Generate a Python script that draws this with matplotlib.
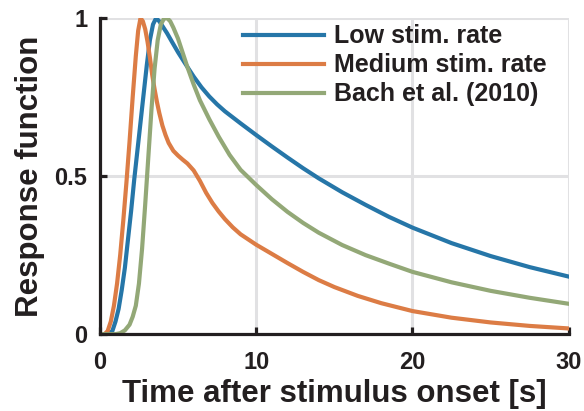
import numpy as np
import matplotlib
matplotlib.use('Agg')
import matplotlib.pyplot as plt

# values
t_low = [0, 0.5, 0.8, 1.0, 1.2, 1.4, 1.6, 1.8, 2.0, 2.2, 2.4, 2.6, 2.8, 3.0, 3.2, 3.4,
         3.6, 3.8, 4.0, 4.3, 4.6, 5.0, 5.5, 6.0, 6.5, 7.0, 7.5, 8.0, 9.0, 10, 11, 12,
         13, 14, 15.5, 17, 18.5, 20, 22.5, 25, 27.5, 30]
y_low = [0, 0, 0.01, 0.04, 0.08, 0.14, 0.21, 0.30, 0.39, 0.49, 0.58, 0.67, 0.76, 0.85, 0.93, 0.98,
         1.0, 0.99, 0.975, 0.952, 0.926, 0.892, 0.853, 0.815, 0.781, 0.752, 0.727, 0.705, 0.667, 0.63, 0.594, 0.559,
         0.525, 0.493, 0.449, 0.409, 0.371, 0.337, 0.288, 0.247, 0.212, 0.182]

t_med = [0, 0.3, 0.5, 0.7, 0.9, 1.1, 1.3, 1.5, 1.7, 1.9, 2.1, 2.3, 2.45, 2.6, 2.75, 2.9,
         3.05, 3.2, 3.35, 3.5, 3.65, 3.8, 4.0, 4.2, 4.4, 4.7, 5.0, 5.3, 5.6, 6.0, 6.4, 6.8,
         7.2, 7.6, 8.0, 8.5, 9.0, 10, 11, 12, 13, 14, 15, 16.5, 18, 20, 22.5, 25, 27.5, 30]
y_med = [0, 0, 0.01, 0.04, 0.09, 0.16, 0.25, 0.36, 0.48, 0.61, 0.75, 0.88, 0.96, 1.0, 0.99, 0.965,
         0.925, 0.875, 0.82, 0.775, 0.735, 0.70, 0.66, 0.63, 0.605, 0.58, 0.565, 0.552, 0.54, 0.518, 0.485, 0.447,
         0.415, 0.388, 0.364, 0.338, 0.316, 0.283, 0.254, 0.225, 0.197, 0.171, 0.149, 0.121, 0.098, 0.073, 0.052, 0.037, 0.026, 0.018]

t_bach = [0, 1.0, 1.3, 1.6, 1.9, 2.1, 2.3, 2.5, 2.7, 2.9, 3.1, 3.3, 3.5, 3.7, 3.9, 4.1,
          4.3, 4.5, 4.7, 5.0, 5.3, 5.6, 6.0, 6.4, 7.0, 7.6, 8.3, 9.0, 10, 11, 12,
          13, 14, 15.5, 17, 18.5, 20, 22.5, 25, 27.5, 30]
y_bach = [0, 0, 0.003, 0.012, 0.03, 0.055, 0.09, 0.16, 0.27, 0.41, 0.56, 0.71, 0.84, 0.93, 0.98, 0.998,
          1.0, 0.99, 0.97, 0.935, 0.89, 0.845, 0.79, 0.74, 0.68, 0.625, 0.567, 0.52, 0.472, 0.427, 0.387,
          0.352, 0.321, 0.282, 0.25, 0.223, 0.197, 0.164, 0.137, 0.115, 0.096]

labels = ['Low stim. rate', 'Medium stim. rate', 'Bach et al. (2010)']
colors = ['#2676a8', '#dc7c45', '#93a877']

plt.rcParams['font.family'] = 'Liberation Sans'
plt.rcParams['font.weight'] = 'bold'

fig = plt.figure(figsize=(5.84, 4.11), dpi=100)
ax = fig.add_axes([0.171, 0.187, 0.803, 0.769])

ax.plot(t_low, y_low, color=colors[0], lw=3, label=labels[0], solid_joinstyle='round')
ax.plot(t_med, y_med, color=colors[1], lw=3, label=labels[1], solid_joinstyle='round')
ax.plot(t_bach, y_bach, color=colors[2], lw=3, label=labels[2], solid_joinstyle='round')

ax.set_xlim(0, 30)
ax.set_ylim(0, 1)
ax.set_xticks([0, 10, 20, 30])
ax.set_yticks([0, 0.5, 1])
ax.set_yticklabels(['0', '0.5', '1'])
ax.grid(True, color='#e1e1e3', lw=2.2)
ax.set_axisbelow(True)
for s in ['top', 'right']:
    ax.spines[s].set_visible(False)
for s in ['left', 'bottom']:
    ax.spines[s].set_linewidth(2.3)
    ax.spines[s].set_color('#231f20')
ax.tick_params(direction='in', length=5, width=2.3, color='#231f20',
               labelsize=17, labelcolor='#231f20')
ax.tick_params(axis='x', pad=12)
ax.tick_params(axis='y', pad=9)

ax.set_xlabel('Time after stimulus onset [s]', fontsize=22.5, fontweight='bold',
              color='#231f20', labelpad=4)
ax.set_ylabel('Response function', fontsize=22.5, fontweight='bold',
              color='#231f20', labelpad=7)

ax.legend(loc='upper left', bbox_to_anchor=(0.305, 0.98), frameon=False,
          fontsize=18, handlelength=3.25, handletextpad=0.4, labelspacing=0.2,
          borderaxespad=0, borderpad=0, labelcolor='#231f20')

fig.savefig('out.png', dpi=100)
